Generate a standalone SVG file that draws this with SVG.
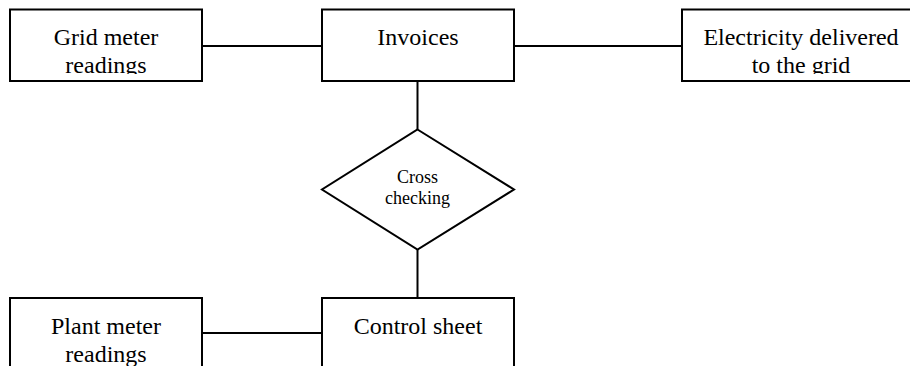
<svg xmlns="http://www.w3.org/2000/svg" width="910" height="366" viewBox="0 0 910 366">
<style>
.box{fill:#fff;stroke:#000;stroke-width:2}
.ln{stroke:#000;stroke-width:2;fill:none}
.t{font-family:"Liberation Serif","Times New Roman",serif;font-size:24px;fill:#000;text-anchor:middle}
.s{font-family:"Liberation Serif","Times New Roman",serif;font-size:18px;fill:#000;text-anchor:middle}
</style>
<defs>
<clipPath id="cGrid"><rect x="10" y="10" width="192" height="64"/></clipPath>
<clipPath id="cElec"><rect x="682" y="10" width="240" height="64"/></clipPath>
<clipPath id="cInv"><rect x="322" y="10" width="192" height="64"/></clipPath>
</defs>
<rect width="910" height="366" fill="#fff"/>
<g id="connectors">
<line class="ln" x1="202" y1="46" x2="322" y2="46"/>
<line class="ln" x1="514" y1="46" x2="682" y2="46"/>
<line class="ln" x1="417.5" y1="81" x2="417.5" y2="129.5"/>
<line class="ln" x1="417.5" y1="249.5" x2="417.5" y2="298"/>
<line class="ln" x1="202" y1="333" x2="322" y2="333"/>
</g>
<g id="grid-meter">
<rect class="box" x="10" y="9.5" width="192" height="71.5"/>
<g clip-path="url(#cGrid)">
<text class="t" x="106" y="45">Grid meter</text>
<text class="t" x="106" y="73">readings</text>
</g>
</g>
<g id="invoices">
<rect class="box" x="322" y="9.5" width="192" height="71.5"/>
<text class="t" x="418" y="45">Invoices</text>
</g>
<g id="electricity">
<rect class="box" x="682" y="9.5" width="240" height="71.5"/>
<g clip-path="url(#cElec)">
<text class="t" x="801" y="45">Electricity delivered</text>
<text class="t" x="801" y="73">to the grid</text>
</g>
</g>
<g id="cross-checking">
<polygon class="box" points="417.5,129.5 514,189.5 417.5,249.5 322,189.5"/>
<text class="s" x="417.5" y="182.5">Cross</text>
<text class="s" x="417.5" y="203.5">checking</text>
</g>
<g id="plant-meter">
<rect class="box" x="10" y="298" width="192" height="80"/>
<text class="t" x="106" y="334">Plant meter</text>
<text class="t" x="106" y="362">readings</text>
</g>
<g id="control-sheet">
<rect class="box" x="322" y="298" width="192" height="80"/>
<text class="t" x="418" y="334">Control sheet</text>
</g>
</svg>
